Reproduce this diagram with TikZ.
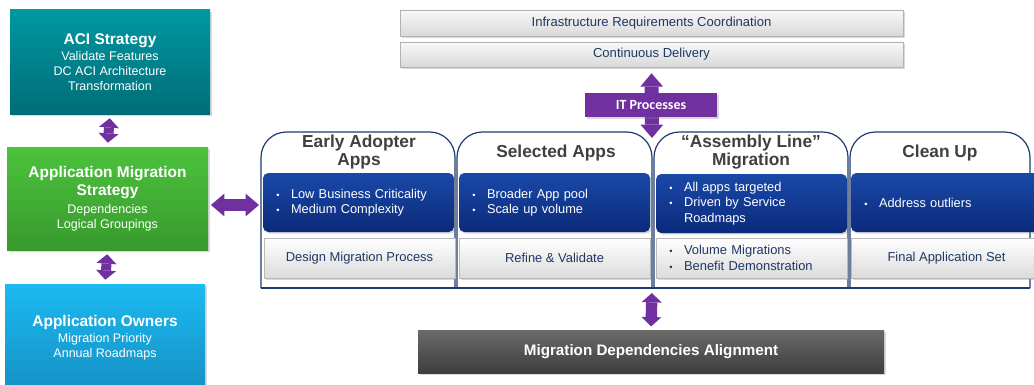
\documentclass[tikz,border=0pt]{standalone}
\usepackage{fontspec}
\setmainfont{Liberation Sans}
\newfontfamily\calibri{Carlito}
\usetikzlibrary{arrows.meta,positioning,shadows}
\definecolor{acitop}{HTML}{0098A1}
\definecolor{acibot}{HTML}{006D78}
\definecolor{amstop}{HTML}{4CC23C}
\definecolor{amsbot}{HTML}{389A2D}
\definecolor{aotop}{HTML}{1BBAF0}
\definecolor{aobot}{HTML}{1590C4}
\definecolor{archpurple}{HTML}{7030A0}
\definecolor{navyline}{HTML}{1F3A6E}
\definecolor{navytext}{HTML}{1F3864}
\definecolor{bluetop}{HTML}{1A49A8}
\definecolor{bluebot}{HTML}{0B2A7A}
\definecolor{titlegrey}{HTML}{404040}
\definecolor{mdatop}{HTML}{6A6A6A}
\definecolor{mdabot}{HTML}{3E3E3E}
\newcommand{\bul}{\makebox[11pt][l]{\scriptsize\textbullet}}
\newcommand{\nobul}{\makebox[11pt][l]{}}
\newcommand{\stitle}{\bfseries\fontsize{11.6}{13.5}\selectfont}

\begin{document}
\begin{tikzpicture}[x=0.75pt,y=-0.75pt,
    softshadow/.style={drop shadow={opacity=0.3,shadow xshift=1.2pt,shadow yshift=-1.2pt}},
    stratbox/.style={softshadow,text=white,align=center,inner sep=2pt,
      minimum width=150pt,font=\fontsize{9.4}{11.25}\selectfont},
    bandbar/.style={softshadow,draw=gray!60,top color=gray!5,bottom color=gray!30,
      minimum width=377.25pt,text=navytext,font=\fontsize{9.8}{11}\selectfont},
    phasetitle/.style={text=titlegrey,align=center,font=\bfseries\fontsize{13}{13.5}\selectfont},
    bluebox/.style={softshadow,rounded corners=4pt,top color=bluetop,bottom color=bluebot,
      text=white,minimum width=143.25pt,minimum height=44.25pt,inner xsep=10pt,
      text width=123.25pt,align=left,font=\fontsize{9.6}{11.6}\selectfont},
    greybox/.style={softshadow,draw=gray!55,top color=white,bottom color=gray!28,
      text=navytext,minimum width=143.25pt,minimum height=30pt,align=center,
      font=\fontsize{9.7}{11.6}\selectfont},
    panel/.style={draw=navyline,line width=0.9pt,fill=white,rounded corners=19pt},
    twoway/.style={archpurple,line width=7.5pt,
      {Triangle[width=15pt,length=7pt,line width=0pt]}-{Triangle[width=15pt,length=7pt,line width=0pt]}},
    widetwoway/.style={archpurple,line width=9pt,
      {Triangle[width=17pt,length=10pt,line width=0pt]}-{Triangle[width=17pt,length=10pt,line width=0pt]}}]
  \useasboundingbox (0,0) rectangle (1034,385);

  % left column
  \node[stratbox,top color=acitop,bottom color=acibot,minimum height=78pt] (aci) at (110,62)
    {{\stitle ACI Strategy}\\[0.5pt]Validate Features\\DC ACI Architecture\\Transformation};
  \node[stratbox,top color=amstop,bottom color=amsbot,minimum width=150.75pt,minimum height=77.25pt] (ams) at (107.5,198.5)
    {{\stitle Application Migration}\\[2.5pt]{\stitle Strategy}\\[2pt]Dependencies\\Logical Groupings};
  \node[stratbox,top color=aotop,bottom color=aobot,minimum height=81pt] (ao) at (105,338)
    {{\stitle Application Owners}\\[0.5pt]Migration Priority\\Annual Roadmaps};

  % top bars
  \node[bandbar,minimum height=19.5pt] (irc) at (651.5,23) {Infrastructure Requirements Coordination};
  \node[bandbar,minimum height=18.75pt] (cd) at (651.5,54.5) {Continuous Delivery};

  % phase panels
  \foreach \l/\r in {261/455,457/652,654/848,850/1030}
    \draw[panel] (\l,288) -- (\l,132) -- (\r,132) -- (\r,288);
  \draw[navyline,line width=0.9pt] (261,288) -- (1030,288);
  \coordinate (pleft) at (261,205);
  \coordinate (pnotch) at (652,138);
  \coordinate (pbase) at (652,289);

  \node[phasetitle] (t1) at (359,152) {Early Adopter\\Apps};
  \node[phasetitle] (t2) at (556,153) {Selected Apps};
  \node[phasetitle] (t3) at (751,152) {\textquotedblleft Assembly Line\textquotedblright\\Migration};
  \node[phasetitle] (t4) at (940,153) {Clean Up};

  \node[bluebox] (b1) at (358.5,202.5) {\bul Low Business Criticality\\\bul Medium Complexity};
  \node[bluebox] (b2) at (554.5,202.5) {\bul Broader App pool\\\bul Scale up volume};
  \node[bluebox] (b3) at (751.5,203.5) {\bul All apps targeted\\\bul Driven by Service\\\nobul Roadmaps};
  \node[bluebox] (b4) at (946.5,202.5) {\bul Address outliers};

  \node[greybox] (g1) at (359.5,258) {Design Migration Process};
  \node[greybox] (g2) at (554.5,258) {Refine \& Validate};
  \node[greybox,inner xsep=10pt,text width=123.25pt,align=left] (g3) at (751.5,258)
    {\bul Volume Migrations\\\bul Benefit Demonstration};
  \node[greybox] (g4) at (946.5,258) {Final Application Set};

  % bottom bar
  \node[softshadow,top color=mdatop,bottom color=mdabot,text=white,minimum width=349.5pt,
    minimum height=32.25pt,font=\bfseries\fontsize{11.4}{12}\selectfont] (mda) at (651,351.5)
    {Migration Dependencies Alignment};

  % arrows
  \draw[twoway,shorten <=3pt,shorten >=3pt] (aci.south) -- (ams.north);
  \draw[twoway,shorten <=3pt,shorten >=3pt] (ams.south) -- (ao.north);
  \draw[widetwoway,shorten <=2pt,shorten >=1.5pt] (ams.east |- pleft) -- (pleft);
  \draw[widetwoway,line width=10.5pt,shorten <=4.5pt] (cd.south) -- (pnotch);
  \draw[twoway,line width=8.5pt,shorten <=3pt,shorten >=2.5pt] (pbase) -- (mda.north);

  \node[softshadow,fill=archpurple,text=white,minimum width=99pt,minimum height=18pt,
    font=\calibri\bfseries\fontsize{10.5}{11}\selectfont] (itp) at (651,105) {IT Processes};
\end{tikzpicture}
\end{document}
